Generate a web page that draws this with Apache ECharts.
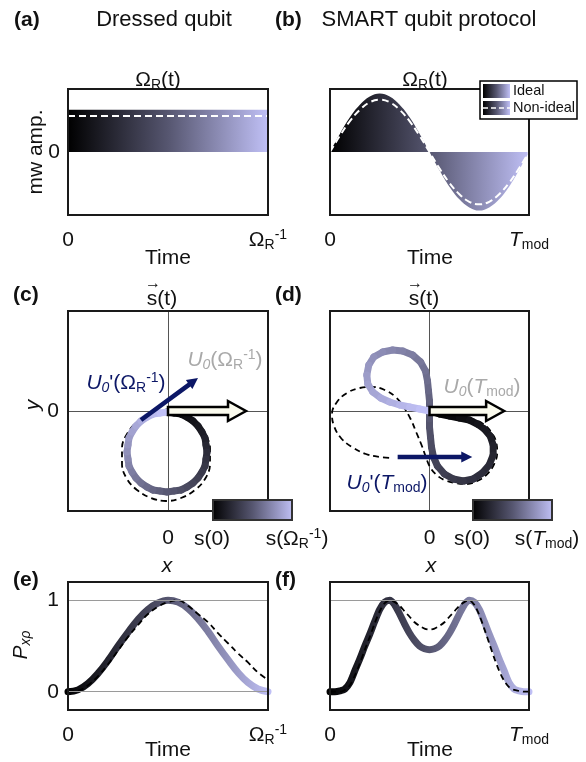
<!DOCTYPE html>
<html><head><meta charset="utf-8">
<script src="https://cdn.jsdelivr.net/npm/echarts@6/dist/echarts.min.js"></script>
<style>html,body{margin:0;padding:0;background:#fff}#chart{width:586px;height:762px}</style>
</head><body><div id="chart"></div>
<script>
// ---------------- data ----------------
// (a) dressed qubit drive amplitude
const tA = [0, 1];
const ampA = [0.67, 0.67];
const ampANonIdeal = [0.57, 0.57];
// (b) SMART drive amplitude
const tB = [0,0.05,0.1,0.15,0.2,0.25,0.3,0.35,0.4,0.45,0.5,0.55,0.6,0.65,0.7,0.75,0.8,0.85,0.9,0.95,1];
const ampB = [0,0.29,0.55,0.75,0.88,0.93,0.88,0.75,0.55,0.29,0,-0.29,-0.55,-0.75,-0.88,-0.93,-0.88,-0.75,-0.55,-0.29,0];
const ampBNonIdeal = [0,0.26,0.49,0.67,0.79,0.83,0.79,0.67,0.49,0.26,0,-0.26,-0.49,-0.67,-0.79,-0.83,-0.79,-0.67,-0.49,-0.26,0];
// (c) trajectory, dressed qubit
const xsC = [-0.01,0.06,0.13,0.19,0.25,0.30,0.34,0.37,0.38,0.39,0.38,0.37,0.34,0.30,0.25,0.19,0.13,0.06,-0.01,-0.08,-0.15,-0.21,-0.27,-0.32,-0.36,-0.39,-0.40,-0.41,-0.40,-0.39,-0.36,-0.32,-0.27,-0.21,-0.15,-0.08,-0.01];
const ysC = [-0.01,-0.02,-0.03,-0.06,-0.10,-0.15,-0.21,-0.27,-0.34,-0.41,-0.48,-0.55,-0.61,-0.67,-0.72,-0.76,-0.79,-0.80,-0.81,-0.80,-0.79,-0.76,-0.72,-0.67,-0.61,-0.55,-0.48,-0.41,-0.34,-0.27,-0.21,-0.15,-0.10,-0.06,-0.03,-0.02,-0.01];
const xsCNonIdeal = [-0.02,0.13,0.27,0.37,0.42,0.42,0.37,0.27,0.13,-0.02,-0.17,-0.31,-0.41,-0.46,-0.46,-0.41,-0.31,-0.17,-0.02];
const ysCNonIdeal = [0.00,-0.03,-0.11,-0.23,-0.37,-0.53,-0.68,-0.79,-0.87,-0.90,-0.87,-0.79,-0.68,-0.53,-0.37,-0.23,-0.11,-0.03,0.00];
const arrowU0C = [0, 0, 0.78, 0];
const arrowU0pC = [-0.27, -0.09, 0.30, 0.33];
// (d) trajectory, SMART qubit
const xsD = [0.00,0.10,0.20,0.30,0.40,0.48,0.55,0.61,0.64,0.64,0.60,0.53,0.44,0.34,0.24,0.15,0.08,0.04,0.02,0.01,0.00,0.00,0.00,0.00,-0.01,-0.02,-0.04,-0.09,-0.17,-0.27,-0.37,-0.47,-0.56,-0.61,-0.63,-0.62,-0.57,-0.49,-0.40,-0.30,-0.20,-0.10,0.00];
const ysD = [0.00,-0.03,-0.05,-0.07,-0.09,-0.13,-0.18,-0.25,-0.34,-0.44,-0.54,-0.62,-0.68,-0.70,-0.68,-0.63,-0.55,-0.46,-0.36,-0.26,-0.16,-0.08,0.00,0.10,0.20,0.30,0.40,0.49,0.56,0.60,0.61,0.59,0.54,0.46,0.36,0.27,0.19,0.13,0.09,0.06,0.04,0.02,0.00];
const xsDNonIdeal = [0,0.15,0.30,0.43,0.54,0.62,0.67,0.68,0.65,0.58,0.48,0.37,0.26,0.15,0.06,0.00,-0.04,-0.08,-0.13,-0.19,-0.26,-0.34,-0.45,-0.57,-0.70,-0.83,-0.93,-0.98,-0.96,-0.89,-0.78,-0.64,-0.50,-0.37];
const ysDNonIdeal = [0,-0.03,-0.05,-0.08,-0.13,-0.21,-0.31,-0.42,-0.53,-0.63,-0.70,-0.73,-0.72,-0.69,-0.63,-0.55,-0.45,-0.34,-0.22,-0.08,0.04,0.14,0.21,0.24,0.23,0.18,0.09,-0.03,-0.15,-0.27,-0.36,-0.43,-0.46,-0.47];
const arrowU0D = [0, 0, 0.75, 0];
const arrowU0pD = [-0.32, -0.46, 0.43, -0.46];
// (e) population, dressed qubit
const tE = [0,0.05,0.1,0.15,0.2,0.25,0.3,0.35,0.4,0.45,0.5,0.55,0.6,0.65,0.7,0.75,0.8,0.85,0.9,0.95,1];
const pE = [0,0.02,0.09,0.2,0.34,0.5,0.65,0.79,0.9,0.97,1.0,0.98,0.91,0.8,0.66,0.5,0.35,0.21,0.1,0.03,0];
const pENonIdeal = [0,0.01,0.07,0.17,0.3,0.45,0.6,0.73,0.85,0.93,0.98,1.0,0.94,0.85,0.76,0.64,0.53,0.42,0.32,0.21,0.13];
const gridLinesE = [0, 1];
// (f) population, SMART qubit
const tF = [0,0.025,0.05,0.075,0.1,0.125,0.15,0.175,0.2,0.225,0.25,0.275,0.3,0.325,0.35,0.375,0.4,0.425,0.45,0.475,0.5,0.525,0.55,0.575,0.6,0.625,0.65,0.675,0.7,0.725,0.75,0.775,0.8,0.825,0.85,0.875,0.9,0.925,0.95,0.975,1];
const pF = [0,0,0.01,0.03,0.1,0.23,0.36,0.5,0.63,0.77,0.9,0.98,1.0,0.95,0.85,0.74,0.64,0.56,0.5,0.47,0.46,0.47,0.5,0.56,0.64,0.74,0.85,0.95,1.0,0.98,0.9,0.77,0.63,0.5,0.36,0.23,0.1,0.03,0.01,0,0];
const pFNonIdeal = [0,0,0,0.02,0.07,0.18,0.31,0.46,0.6,0.75,0.88,0.97,1.0,0.98,0.94,0.88,0.82,0.76,0.72,0.69,0.68,0.69,0.72,0.76,0.82,0.88,0.94,0.98,1.0,0.95,0.84,0.69,0.53,0.37,0.23,0.12,0.05,0.02,0.01,0,0];
const gridLinesF = [1];

// ---------------- styling helpers ----------------
const FONT = '"Liberation Sans", Arial, Helvetica, sans-serif';
const INK = '#111111';
const NAVY = '#0c1766';
const GREY = '#a9a9a9';
const STOPS = [[0,[0,0,0]],[0.5,[86,86,112]],[1,[192,192,246]]];
function gradColor(t){
  t = Math.max(0, Math.min(1, t));
  for (let i = 0; i < STOPS.length - 1; i++){
    const a = STOPS[i], b = STOPS[i+1];
    if (t <= b[0]){
      const f = (t - a[0]) / (b[0] - a[0]);
      const c = a[1].map((v,k)=>Math.round(v + (b[1][k]-v)*f));
      return 'rgb(' + c.join(',') + ')';
    }
  }
  return 'rgb(' + STOPS[STOPS.length-1][1].join(',') + ')';
}
function hGrad(){
  return {type:'linear',x:0,y:0,x2:1,y2:0,colorStops:STOPS.map(s=>({offset:s[0],color:'rgb('+s[1].join(',')+')'}))};
}
function zip(a,b){ return a.map((v,i)=>[v,b[i]]); }
function segments(xs, ys){
  const out = [], n = xs.length;
  for (let i = 0; i < n-1; i++) out.push([xs[i],ys[i],xs[i+1],ys[i+1],i/(n-2)]);
  return out;
}
function rich(color, size){
  size = size || 21;
  const s = Math.round(size*0.67);
  const base = {fontFamily:FONT, color:color, fill:color};
  return {
    n: Object.assign({fontSize:size, lineHeight:size+3}, base),
    i: Object.assign({fontSize:size, lineHeight:size+3, fontStyle:'italic'}, base),
    b: Object.assign({fontSize:size, lineHeight:size+3, fontWeight:'bold'}, base),
    sub: Object.assign({fontSize:s, lineHeight:s, verticalAlign:'bottom'}, base),
    subi: Object.assign({fontSize:s, lineHeight:s, verticalAlign:'bottom', fontStyle:'italic'}, base),
    sup: Object.assign({fontSize:s, lineHeight:s, verticalAlign:'top'}, base)
  };
}
function txt(x, y, text, o){
  o = o || {};
  const color = o.color || INK;
  const align = o.align || 'center';
  return {type:'text', x:x, y:y, rotation:o.rot||0, z:100,
    style:{text:text, rich:rich(color, o.size), fill:color, fontFamily:FONT, fontSize:o.size||21,
      align:align, textAlign:align, verticalAlign:'middle', textVerticalAlign:'middle'}};
}
const OMEGA_INV = '{n|Ω}{sub|R}{sup|-1}';
const TMOD = '{i|T}{sub|mod}';

function segRender(params, api){
  const a = api.coord([api.value(0), api.value(1)]);
  const b = api.coord([api.value(2), api.value(3)]);
  return {type:'line', shape:{x1:a[0],y1:a[1],x2:b[0],y2:b[1]},
    style:{stroke:gradColor(api.value(4)), lineWidth:7, lineCap:'round'}};
}
function arrowRender(o){
  return function(params, api){
    const p0 = api.coord([api.value(0), api.value(1)]);
    const p1 = api.coord([api.value(2), api.value(3)]);
    const dx = p1[0]-p0[0], dy = p1[1]-p0[1];
    const L = Math.hypot(dx, dy), ux = dx/L, uy = dy/L, nx = -uy, ny = ux;
    const bx = p1[0]-ux*o.headLen, by = p1[1]-uy*o.headLen;
    const s = o.shaft, h = o.head;
    const pts = [[p0[0]+nx*s,p0[1]+ny*s],[bx+nx*s,by+ny*s],[bx+nx*h,by+ny*h],[p1[0],p1[1]],
                 [bx-nx*h,by-ny*h],[bx-nx*s,by-ny*s],[p0[0]-nx*s,p0[1]-ny*s]];
    return {type:'polygon', shape:{points:pts},
      style:{fill:o.fill, stroke:o.stroke||null, lineWidth:o.lw||0, lineJoin:'miter'}};
  };
}
const whiteArrow = arrowRender({shaft:4, head:10, headLen:18, fill:'#fbfbee', stroke:'#000', lw:2.5});
const navyArrow = arrowRender({shaft:2.3, head:5.5, headLen:11, fill:NAVY});

// ---------------- axes ----------------
const grids = [
  {left:68, top:89, width:200, height:126},
  {left:330, top:89, width:199, height:126},
  {left:68, top:311, width:200, height:200},
  {left:330, top:311, width:199, height:200},
  {left:68, top:582, width:200, height:128},
  {left:330, top:582, width:199, height:128}
].map(g=>Object.assign({show:true, borderColor:'#1a1a1a', borderWidth:2, backgroundColor:'transparent', z:10}, g));

function timeAxis(idx, endLabel){
  return {gridIndex:idx, type:'value', min:0, max:1, interval:1,
    axisLine:{show:false}, axisTick:{show:false}, splitLine:{show:false},
    axisLabel:{show:true, showMinLabel:true, showMaxLabel:true, margin:13, rich:rich(INK),
      formatter:v=> v===0 ? '{n|0}' : endLabel}};
}
function crossAxis(idx, showLabel, margin){
  return {gridIndex:idx, type:'value', min:-1, max:1, interval:1,
    axisLine:{show:false}, axisTick:{show:false},
    splitLine:{show:true, lineStyle:{color:'#555', width:1}},
    axisLabel:{show:showLabel, margin:margin, rich:rich(INK), formatter:v=> v===0 ? '{n|0}' : ''}};
}
function ampAxis(idx, showLabel){
  return {gridIndex:idx, type:'value', min:-1, max:1, interval:1,
    axisLine:{show:false}, axisTick:{show:false}, splitLine:{show:false},
    axisLabel:{show:showLabel, margin:8, rich:rich(INK), formatter:v=> v===0 ? '{n|0}' : ''}};
}
function popAxis(idx, showLabel){
  return {gridIndex:idx, type:'value', min:-0.2, max:1.2, interval:0.2,
    axisLine:{show:false}, axisTick:{show:false}, splitLine:{show:false},
    axisLabel:{show:showLabel, margin:9, rich:rich(INK), formatter:v=>{
      const r = Math.round(v*10)/10; return r===0 ? '{n|0}' : (r===1 ? '{n|1}' : '');}}};
}

const xAxis = [
  timeAxis(0, OMEGA_INV), timeAxis(1, TMOD),
  crossAxis(2, true, 15), crossAxis(3, true, 15),
  timeAxis(4, OMEGA_INV), timeAxis(5, TMOD)
];
const yAxis = [
  ampAxis(0, true), ampAxis(1, false),
  crossAxis(2, true, 9), crossAxis(3, false, 9),
  popAxis(4, true), popAxis(5, false)
];

const dashBlack = {color:'#000', width:1.8, type:[6,4]};
const dashWhite = {color:'#fff', width:2, type:[7,4]};

const series = [
  // (a)
  {type:'line', xAxisIndex:0, yAxisIndex:0, data:zip(tA, ampA), symbol:'none',
    lineStyle:{width:0}, areaStyle:{color:hGrad(), opacity:1}, z:2},
  {type:'line', xAxisIndex:0, yAxisIndex:0, data:zip(tA, ampANonIdeal), symbol:'none', lineStyle:dashWhite, z:3},
  // (b)
  {type:'line', xAxisIndex:1, yAxisIndex:1, data:zip(tB, ampB), symbol:'none', smooth:0.4,
    lineStyle:{width:0}, areaStyle:{color:hGrad(), opacity:1}, z:2},
  {type:'line', xAxisIndex:1, yAxisIndex:1, data:zip(tB, ampBNonIdeal), symbol:'none', smooth:0.4, lineStyle:dashWhite, z:3},
  // (c)
  {type:'line', xAxisIndex:2, yAxisIndex:2, data:zip(xsCNonIdeal, ysCNonIdeal), symbol:'none', smooth:0.4, lineStyle:dashBlack, z:2},
  {type:'custom', xAxisIndex:2, yAxisIndex:2, data:segments(xsC, ysC), encode:{x:[0,2], y:[1,3]}, renderItem:segRender, z:3},
  {type:'custom', xAxisIndex:2, yAxisIndex:2, data:[arrowU0C], encode:{x:[0,2], y:[1,3]}, renderItem:whiteArrow, z:4},
  {type:'custom', xAxisIndex:2, yAxisIndex:2, data:[arrowU0pC], encode:{x:[0,2], y:[1,3]}, renderItem:navyArrow, z:5},
  // (d)
  {type:'line', xAxisIndex:3, yAxisIndex:3, data:zip(xsDNonIdeal, ysDNonIdeal), symbol:'none', smooth:0.4, lineStyle:dashBlack, z:2},
  {type:'custom', xAxisIndex:3, yAxisIndex:3, data:segments(xsD, ysD), encode:{x:[0,2], y:[1,3]}, renderItem:segRender, z:3},
  {type:'custom', xAxisIndex:3, yAxisIndex:3, data:[arrowU0D], encode:{x:[0,2], y:[1,3]}, renderItem:whiteArrow, z:4},
  {type:'custom', xAxisIndex:3, yAxisIndex:3, data:[arrowU0pD], encode:{x:[0,2], y:[1,3]}, renderItem:navyArrow, z:5},
  // (e)
  {type:'line', xAxisIndex:4, yAxisIndex:4, data:[], symbol:'none', z:1,
    markLine:{silent:true, symbol:'none', label:{show:false}, lineStyle:{color:'#9a9a9a', width:1, type:'solid'},
      data:gridLinesE.map(v=>({yAxis:v}))}},
  {type:'line', xAxisIndex:4, yAxisIndex:4, data:zip(tE, pE), symbol:'none', smooth:0.4,
    lineStyle:{color:hGrad(), width:7, cap:'round'}, z:3},
  {type:'line', xAxisIndex:4, yAxisIndex:4, data:zip(tE, pENonIdeal), symbol:'none', smooth:0.4, lineStyle:dashBlack, z:4},
  // (f)
  {type:'line', xAxisIndex:5, yAxisIndex:5, data:[], symbol:'none', z:1,
    markLine:{silent:true, symbol:'none', label:{show:false}, lineStyle:{color:'#9a9a9a', width:1, type:'solid'},
      data:gridLinesF.map(v=>({yAxis:v}))}},
  {type:'line', xAxisIndex:5, yAxisIndex:5, data:zip(tF, pF), symbol:'none', smooth:0.3,
    lineStyle:{color:hGrad(), width:7, cap:'round'}, z:3},
  {type:'line', xAxisIndex:5, yAxisIndex:5, data:zip(tF, pFNonIdeal), symbol:'none', smooth:0.3, lineStyle:dashBlack, z:4}
];

// ---------------- annotations ----------------
const graphic = [
  txt(14, 20, '{b|(a)}', {align:'left'}),
  txt(164, 20, '{n|Dressed qubit}', {size:22}),
  txt(275, 20, '{b|(b)}', {align:'left'}),
  txt(429, 20, '{n|SMART qubit protocol}', {size:22}),
  txt(158, 80, '{n|Ω}{sub|R}{n|(t)}'),
  txt(425, 80, '{n|Ω}{sub|R}{n|(t)}'),
  txt(36, 152, '{n|mw amp.}', {rot:Math.PI/2}),
  txt(168, 258, '{n|Time}'),
  txt(430, 258, '{n|Time}'),
  // legend (b)
  {type:'rect', z:100, shape:{x:480, y:81, width:97, height:38}, style:{fill:'#fff', stroke:'#000', lineWidth:1.5}},
  {type:'rect', z:101, shape:{x:483, y:84, width:27, height:14}, style:{fill:hGrad()}},
  {type:'rect', z:101, shape:{x:483, y:101, width:27, height:14}, style:{fill:hGrad()}},
  {type:'line', z:102, shape:{x1:483, y1:108, x2:511, y2:108}, style:{stroke:'#fff', lineWidth:1.5, lineDash:[5,3]}},
  txt(513, 91, '{n|Ideal}', {align:'left', size:14.5}),
  txt(513, 108, '{n|Non-ideal}', {align:'left', size:14.5}),
  // (c),(d)
  txt(13, 295, '{b|(c)}', {align:'left'}),
  txt(275, 295, '{b|(d)}', {align:'left'}),
  txt(162, 299, '{n|s(t)}'),
  txt(153, 284, '{n|→}', {size:16}),
  txt(424, 299, '{n|s(t)}'),
  txt(415, 284, '{n|→}', {size:16}),
  txt(33, 405, '{i|y}', {rot:Math.PI/2}),
  txt(225, 360, '{i|U}{subi|0}{n|(Ω}{sub|R}{sup|-1}{n|)}', {color:GREY}),
  txt(126, 383, "{i|U}{subi|0}{n|'(Ω}{sub|R}{sup|-1}{n|)}", {color:NAVY}),
  txt(482, 387, '{i|U}{subi|0}{n|(}{i|T}{sub|mod}{n|)}', {color:GREY}),
  txt(387, 483, "{i|U}{subi|0}{n|'(}{i|T}{sub|mod}{n|)}", {color:NAVY}),
  {type:'rect', z:100, shape:{x:213, y:500, width:79, height:20}, style:{fill:hGrad(), stroke:'#333', lineWidth:2}},
  {type:'rect', z:100, shape:{x:473, y:500, width:79, height:20}, style:{fill:hGrad(), stroke:'#333', lineWidth:2}},
  txt(212, 539, '{n|s(0)}'),
  txt(297, 539, '{n|s(Ω}{sub|R}{sup|-1}{n|)}'),
  txt(472, 539, '{n|s(0)}'),
  txt(547, 539, '{n|s(}{i|T}{sub|mod}{n|)}'),
  txt(167, 566, '{i|x}'),
  txt(431, 566, '{i|x}'),
  // (e),(f)
  txt(13, 580, '{b|(e)}', {align:'left'}),
  txt(275, 580, '{b|(f)}', {align:'left'}),
  txt(21, 645, '{i|P}{subi|xρ}', {rot:Math.PI/2}),
  txt(168, 750, '{n|Time}'),
  txt(430, 750, '{n|Time}')
];

const chart = echarts.init(document.getElementById('chart'), null, {renderer:'canvas', width:586, height:762});
chart.setOption({
  animation:false,
  backgroundColor:'#ffffff',
  textStyle:{fontFamily:FONT},
  grid:grids, xAxis:xAxis, yAxis:yAxis, series:series, graphic:graphic
});
</script>
</body></html>
